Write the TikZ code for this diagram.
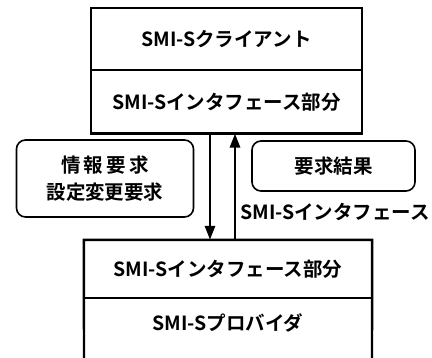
\documentclass[tikz,border=0pt]{standalone}
\usepackage{fontspec}
\setmainfont{Noto Sans CJK JP}[BoldFont={* Bold}]
\usetikzlibrary{arrows.meta}
\begin{document}
\begin{tikzpicture}[x=1pt,y=1pt,
  cell/.style={inner sep=0pt, font=\fontsize{19.5}{22}\selectfont\bfseries},
  frame/.style={line width=2.4pt},
  divider/.style={line width=1.8pt},
  note/.style={draw, line width=1.6pt, rounded corners=9pt, inner sep=0pt, align=center, font=\fontsize{19.5}{27}\selectfont\bfseries},
  flow/.style={line width=2.8pt, -{Triangle[length=14pt,width=10pt]}}
]
\useasboundingbox (0,0) rectangle (432,357);
% top box
\node[cell, minimum width=271pt, minimum height=62pt] (client) at (226.5,318) {SMI-Sクライアント};
\node[cell, minimum width=271pt, minimum height=63pt, anchor=north] (cif) at (client.south) {SMI-Sインタフェース部分};
\draw[frame] (client.north west) rectangle (cif.south east);
\draw[divider] (client.south west) -- (client.south east);
% bottom box
\node[cell, minimum width=288pt, minimum height=58pt] (pif) at (228,88) {SMI-Sインタフェース部分};
\node[cell] (prov) at (228,34) {SMI-Sプロバイダ};
\coordinate (pl) at (84,-2);
\coordinate (pr) at (372,-2);
\draw[frame] (pl) -- (pif.north west) -- (pif.north east) -- (pr);
\draw[divider] (pif.south west) -- (pif.south east);
% arrows
\draw[flow] (cif.south -| 210,0) -- (pif.north -| 210,0);
\draw[flow] (pif.north -| 235,0) -- (cif.south -| 235,0);
% notes
\node[note, minimum width=177pt, minimum height=77pt] (req) at (105,178.5) {情\,報\,要\,求\\設定変更要求};
\node[note, minimum width=163pt, minimum height=50pt] (res) at (333.5,191) {要求結果};
\node[cell] (iflabel) at (335,145) {SMI-Sインタフェース};
\end{tikzpicture}
\end{document}
